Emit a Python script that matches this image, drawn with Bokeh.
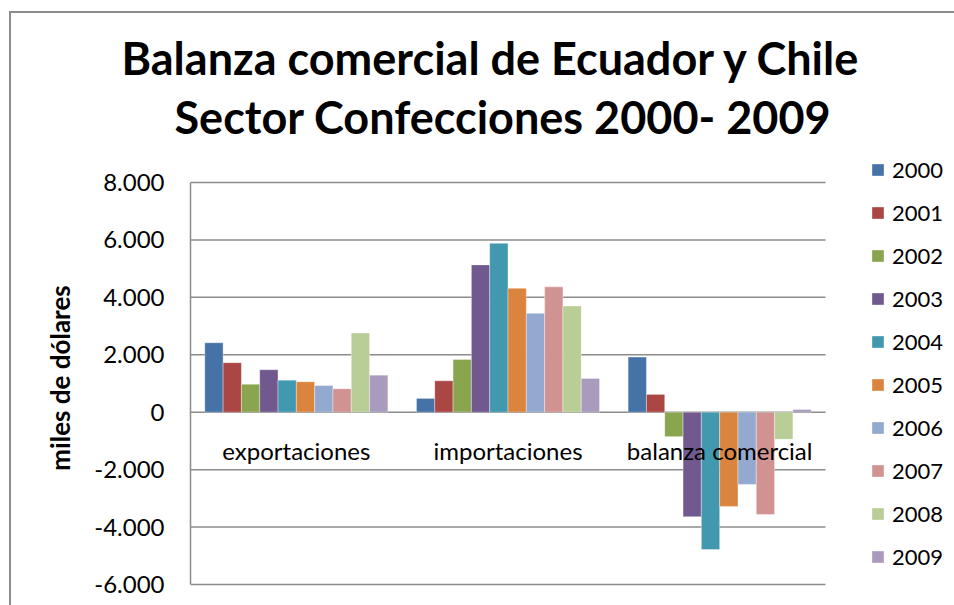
from bokeh.plotting import figure
from bokeh.models import (Range1d, Legend, LegendItem, FixedTicker, Title,
                          ColumnDataSource)
from bokeh.transform import dodge
from bokeh.core.properties import value
from bokeh.embed import file_html
from bokeh.resources import INLINE

categories = ["exportaciones", "importaciones", "balanza comercial"]
years = ["2000", "2001", "2002", "2003", "2004", "2005", "2006", "2007", "2008", "2009"]

y2000 = [2420, 480, 1920]
y2001 = [1725, 1095, 620]
y2002 = [975, 1840, -850]
y2003 = [1480, 5130, -3640]
y2004 = [1115, 5880, -4780]
y2005 = [1060, 4315, -3280]
y2006 = [930, 3445, -2515]
y2007 = [815, 4365, -3560]
y2008 = [2755, 3700, -940]
y2009 = [1290, 1175, 95]

tick_values = [-6000, -4000, -2000, 0, 2000, 4000, 6000, 8000]
tick_labels = ["-6.000", "-4.000", "-2.000", "0", "2.000", "4.000", "6.000", "8.000"]

colors = ["#4572A7", "#AA4643", "#89A54E", "#71588F", "#4198AF",
          "#DB843D", "#93A9CF", "#D19392", "#B9CD96", "#A99BBD"]

series = [y2000, y2001, y2002, y2003, y2004, y2005, y2006, y2007, y2008, y2009]
ncat = len(categories)
data = {"cat": categories, "xc": [i + 0.5 for i in range(ncat)]}
for yr, vals in zip(years, series):
    data["y" + yr] = vals
src = ColumnDataSource(data)

FONT = "Lato"
GRAY = "#8c8c8c"

# layout (pixels): plot area of the categories spans x 190..825, legend sits to its right
W, H = 954, 605
LEFT, CAT_RIGHT, TOP = 190, 825, 150
x_end = ncat * (W - LEFT) / (CAT_RIGHT - LEFT)

p = figure(x_range=Range1d(0, x_end), y_range=(-6731, 9114),
           width=W, height=H, output_backend="svg", toolbar_location=None,
           min_border_left=LEFT, min_border_right=0, min_border_top=TOP,
           min_border_bottom=0)
p.outline_line_color = None
p.background_fill_color = "white"
p.border_fill_color = None
p.styles = {
    "background-color": "white",
    "background-image": ("linear-gradient(%s,%s), linear-gradient(%s,%s)" % (GRAY, GRAY, GRAY, GRAY)),
    "background-position": "9px 11px, 9px 11px",
    "background-size": "2px 100%, 100% 2px",
    "background-repeat": "no-repeat, no-repeat",
}

# horizontal gridlines over the category area only
p.segment(x0=0, x1=ncat, y0=tick_values, y1=tick_values,
          line_color=GRAY, line_width=1.5)

bar_w = 0.0865
renderers = []
for i, (yr, c) in enumerate(zip(years, colors)):
    off = (i - 4.5) * bar_w
    r = p.vbar(x=dodge("xc", off), top="y" + yr, bottom=0,
               width=bar_w, source=src, fill_color=c, line_color="white",
               line_width=0.6, line_alpha=0.6)
    renderers.append(r)

# category labels drawn at the zero line (as Excel does for the category axis)
p.text(x="xc", y=0, text="cat", source=src, text_align="center",
       text_baseline="middle", y_offset=38, text_font=value(FONT),
       text_font_size="24px", text_color="black")

p.xaxis.visible = False
p.xgrid.visible = False
p.ygrid.visible = False

yax = p.yaxis[0]
yax.ticker = FixedTicker(ticks=tick_values)
yax.bounds = (tick_values[0], tick_values[-1])
yax.major_label_overrides = {v: s for v, s in zip(tick_values, tick_labels)}
yax.major_tick_in = 0
yax.major_tick_out = 0
yax.minor_tick_in = 0
yax.minor_tick_out = 0
yax.major_label_standoff = 26
yax.major_label_text_font = FONT
yax.major_label_text_font_size = "24px"
yax.major_label_text_color = "black"
yax.axis_line_color = GRAY
yax.axis_line_width = 1.5
yax.axis_label = "miles de dólares"
yax.axis_label_text_font = FONT
yax.axis_label_text_font_style = "bold"
yax.axis_label_text_font_size = "26px"
yax.axis_label_text_color = "black"
yax.axis_label_standoff = 15

legend = Legend(items=[LegendItem(label=yr, renderers=[r]) for yr, r in zip(years, renderers)],
                location=(680, 35), orientation="vertical")
legend.glyph_width = 15
legend.glyph_height = 15
legend.label_height = 20
legend.spacing = 16
legend.label_standoff = 7
legend.padding = 0
legend.margin = 0
legend.border_line_color = None
legend.background_fill_alpha = 0
legend.label_text_font = FONT
legend.label_text_font_size = "22px"
legend.label_text_color = "black"
p.add_layout(legend, "center")

spacer = Title(text=" ", text_font_size="1px", standoff=4)
t2 = Title(text="Sector Confecciones 2000- 2009", align="left", offset=-16,
           text_font=FONT, text_font_style="bold", text_font_size="45px",
           text_color="black", standoff=0)
t1 = Title(text="Balanza comercial de Ecuador y Chile", align="left", offset=-69,
           text_font=FONT, text_font_style="bold", text_font_size="45px",
           text_color="black", standoff=5)
p.add_layout(spacer, "above")
p.add_layout(t2, "above")
p.add_layout(t1, "above")

open("out.html", "w").write(file_html(p, INLINE))
